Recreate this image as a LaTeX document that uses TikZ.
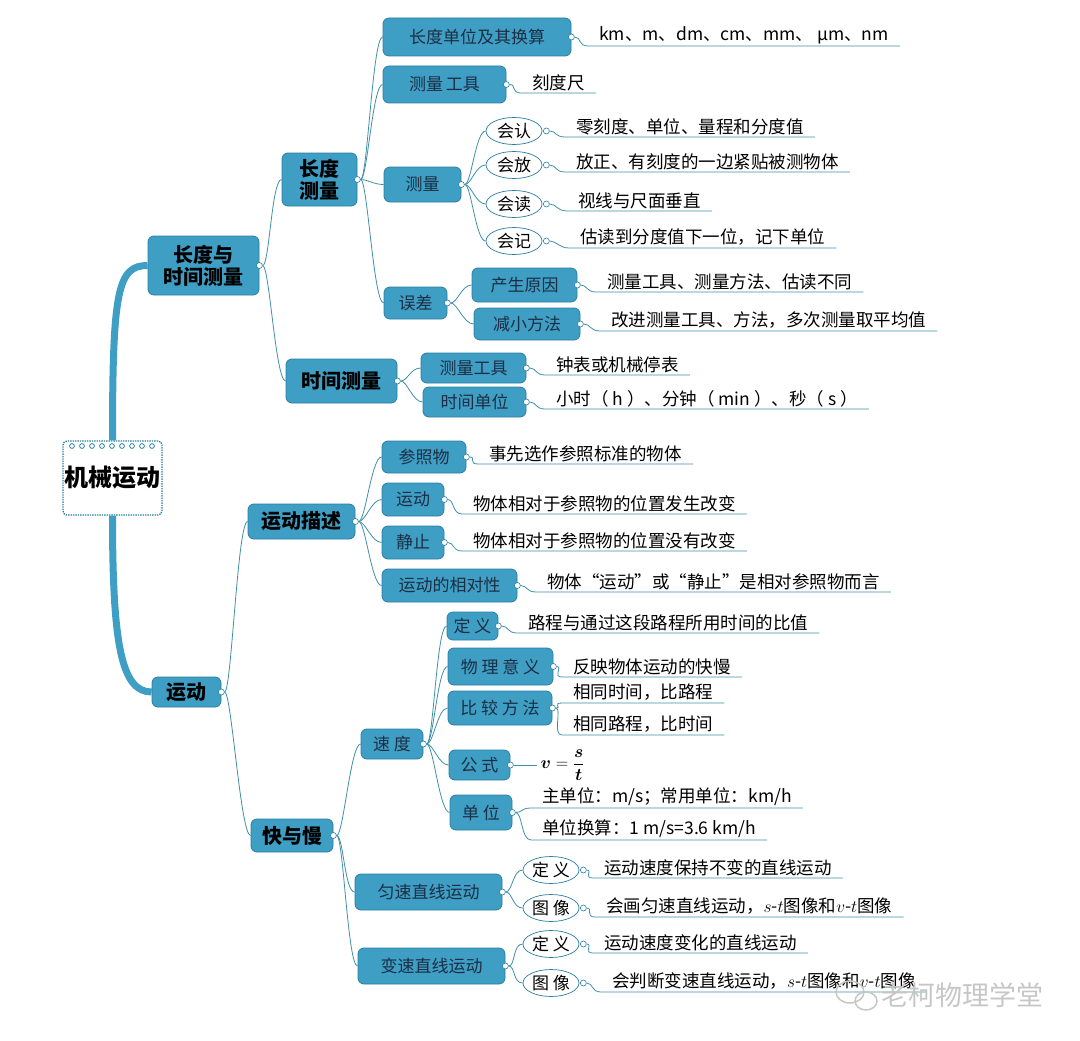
\documentclass[tikz,border=0pt]{standalone}
\usepackage{amsmath}
\usepackage{fontspec}
\setmainfont{Noto Sans CJK SC}
\usepackage{tikz}
\usetikzlibrary{shapes.geometric}
\definecolor{cajaazul}{HTML}{3E9EC4}
\definecolor{cajaborde}{HTML}{2A7FA3}
\definecolor{cajatinta}{HTML}{1C2E44}
\definecolor{ramacol}{HTML}{3F8FA6}
\definecolor{marca}{HTML}{C6C6C6}
\tikzset{
  raiz/.style={rectangle,fill=white,draw=cajaborde,line width=1.3pt,dash pattern=on 1.4pt off 1pt,rounded corners=4pt,minimum width=99pt,minimum height=74pt,inner sep=0pt,font=\fontsize{24}{26}\selectfont\bfseries},
  caja/.style 2 args={rectangle,rounded corners=6pt,fill=cajaazul,draw=cajaborde,line width=0.8pt,text=cajatinta,minimum width=#1,minimum height=#2,inner sep=0pt,font=\fontsize{17}{19}\selectfont},
  cajagrande/.style 2 args={caja={#1}{#2},text=black,align=center,font=\fontsize{20}{22}\selectfont\bfseries},
  ovalo/.style={ellipse,draw=cajaborde,fill=white,line width=0.7pt,minimum width=56pt,minimum height=27pt,inner sep=0pt,font=\fontsize{17}{19}\selectfont},
  hoja/.style={anchor=south west,inner xsep=11pt,inner ysep=2pt,font=\fontsize{17.5}{19}\selectfont},
  punto/.style={circle,draw=cajaborde,fill=white,line width=0.6pt,minimum size=6pt,inner sep=0pt},
  rama/.style={draw=ramacol,line width=0.8pt},
  tronco/.style={draw=cajaazul,line width=7pt},
  curva/.style={to path={.. controls +(#1,0) and +(-#1,0) .. (\tikztotarget)}},
  curva/.default=10,
}
\begin{document}
\begin{tikzpicture}[x=1pt,y=-1pt]
\useasboundingbox (0,0) rectangle (1080,1041);
\node[raiz] (raiz) at (112.5,478) {机械运动};
\foreach \x in {72,82,...,152}
  \draw[cajaborde,line width=0.8pt] (\x,446) circle (2.4pt);
\node[cajagrande={111pt}{59pt}] (lt) at (203.5,265.5) {长度与\\时间测量};
\node[cajagrande={69pt}{30pt}] (mov) at (186.5,692) {运动};
\node[cajagrande={75pt}{53pt}] (lon) at (319.5,179.5) {长度\\测量};
\node[cajagrande={111pt}{44pt}] (tie) at (341.5,381) {时间测量};
\node[cajagrande={107pt}{35pt}] (des) at (301.5,521.5) {运动描述};
\node[cajagrande={82pt}{33pt}] (rap) at (292,835.5) {快与慢};
\node[caja={188pt}{38pt}] (uni) at (477,37) {长度单位及其换算};
\node[caja={123pt}{37pt}] (her) at (444.5,84.5) {测量\,工具};
\node[caja={77pt}{35pt}] (med) at (422.5,184.5) {测量};
\node[caja={63pt}{32pt}] (err) at (415.5,303) {误差};
\node[ovalo] (hr) at (514,131) {会认};
\node[ovalo] (hf) at (514,165) {会放};
\node[ovalo] (hd) at (514,204) {会读};
\node[ovalo] (hj) at (514,241) {会记};
\node[caja={105pt}{34pt}] (cau) at (524.5,285) {产生原因};
\node[caja={106pt}{32pt}] (red) at (527,324) {减小方法};
\node[caja={105pt}{30pt}] (her2) at (473.5,368) {测量工具};
\node[caja={103pt}{30pt}] (uni2) at (474.5,402) {时间单位};
\node[caja={84pt}{32pt}] (ref) at (424,457) {参照物};
\node[caja={62pt}{33pt}] (mo) at (413,499.5) {运动};
\node[caja={62pt}{33pt}] (rep) at (413,542.5) {静止};
\node[caja={135pt}{33pt}] (rel) at (449.5,585.5) {运动的相对性};
\node[caja={62pt}{30pt}] (vel) at (392,744) {速~度};
\node[caja={147pt}{36pt}] (uni3) at (428.5,892) {匀速直线运动};
\node[caja={147pt}{36pt}] (var) at (431.5,966) {变速直线运动};
\node[caja={51pt}{28pt}] (def) at (472.5,626) {定~义};
\node[caja={105pt}{37pt}] (sig) at (500.5,666.5) {物~理~意~义};
\node[caja={104pt}{34pt}] (com) at (500,708) {比~较~方~法};
\node[caja={61pt}{30pt}] (for) at (479.5,765) {公~式};
\node[caja={62pt}{35pt}] (uv) at (481,812.5) {单~位};
\node[ovalo] (ud) at (551,870) {定~义};
\node[ovalo] (ui) at (551,908) {图~像};
\node[ovalo] (vd) at (551,944) {定~义};
\node[ovalo] (vi) at (551,983) {图~像};
\node[hoja] (h1) at (588,46) {km、m、dm、cm、mm、 μm、nm};
\node[hoja] (h2) at (521,93) {刻度尺};
\node[hoja] (h3) at (565,137) {零刻度、单位、量程和分度值};
\node[hoja] (h4) at (565,172) {放正、有刻度的一边紧贴被测物体};
\node[hoja] (h5) at (567,211) {视线与尺面垂直};
\node[hoja] (h6) at (569,248) {估读到分度值下一位，记下单位};
\node[hoja] (h7) at (596,292) {测量工具、测量方法、估读不同};
\node[hoja] (h8) at (600,331) {改进测量工具、方法，多次测量取平均值};
\node[hoja] (h9) at (545,375) {钟表或机械停表};
\node[hoja] (h10) at (545,409) {小时（ h ）、分钟（ min ）、秒（ s ）};
\node[hoja] (h11) at (478,464) {事先选作参照标准的物体};
\node[hoja] (h12) at (462,514) {物体相对于参照物的位置发生改变};
\node[hoja] (h13) at (462,551) {物体相对于参照物的位置没有改变};
\node[hoja] (h14) at (536,592) {物体“运动”或“静止”是相对参照物而言};
\node[hoja] (h15) at (517,633) {路程与通过这段路程所用时间的比值};
\node[hoja] (h16) at (562,677) {反映物体运动的快慢};
\node[hoja] (h17) at (562,703) {相同时间，比路程};
\node[hoja] (h18) at (562,735) {相同路程，比时间};
\node[anchor=west,font=\fontsize{19}{21}\selectfont] (fv) at (537,765) {$\boldsymbol{v}=\dfrac{\boldsymbol{s}}{\boldsymbol{t}}$};
\node[hoja] (h20) at (531,808) {主单位：m/s；常用单位：km/h};
\node[hoja] (h21) at (531,840) {单位换算：1 m/s=3.6 km/h};
\node[hoja] (h22) at (593,878) {运动速度保持不变的直线运动};
\node[hoja] (h23) at (595,917) {会画匀速直线运动，$s$-$t$图像和$v$-$t$图像};
\node[hoja] (h24) at (593,953) {运动速度变化的直线运动};
\node[hoja] (h25) at (601,992) {会判断变速直线运动，$s$-$t$图像和$v$-$t$图像};
\foreach \n in {lt,mov,lon,tie,des,rap,uni,her,med,err,cau,red,her2,uni2,ref,mo,rep,rel,vel,uni3,var,def,sig,com,for,uv}
  \node[punto] (p\n) at (\n.east) {};
\foreach \n in {hr,hf,hd,hj,ud,ui,vd,vi}
  \node[punto] (p\n) at ([xshift=4pt]\n.east) {};
\draw[tronco] (raiz.north) .. controls +(0,-150) and +(-30,0) .. (lt.west);
\draw[tronco] (raiz.south) .. controls +(0,130) and +(-30,0) .. (mov.west);
\foreach \a/\b in {plt/lon,plt/tie,plon/uni,plon/her,plon/med,plon/err,pmed/hr,pmed/hf,pmed/hd,pmed/hj,perr/cau,perr/red,ptie/her2,ptie/uni2,pmov/des,pmov/rap,pdes/ref,pdes/mo,pdes/rep,pdes/rel,prap/vel,prap/uni3,prap/var,pvel/def,pvel/sig,pvel/com,pvel/for,pvel/uv,puni3/ud,puni3/ui,pvar/vd,pvar/vi}
  \draw[rama] (\a) to[curva] (\b.west);
\foreach \a/\b in {puni/h1,pher/h2,phr/h3,phf/h4,phd/h5,phj/h6,pcau/h7,pred/h8,pher2/h9,puni2/h10,pref/h11,pmo/h12,prep/h13,prel/h14,pdef/h15,psig/h16,pcom/h17,pcom/h18,puv/h20,puv/h21,pud/h22,pui/h23,pvd/h24,pvi/h25}
  \draw[rama] (\a) to[curva] (\b.south west) -- (\b.south east);
\draw[rama] (pfor) -- (fv.west);
\draw[marca,line width=1.5pt] (850,992) ellipse (14pt and 11pt);
\draw[marca,line width=1.5pt] (866,1001) ellipse (11pt and 9pt);
\node[text=marca,font=\fontsize{27}{30}\selectfont] (wm) at (962,995) {老柯物理学堂};
\end{tikzpicture}
\end{document}
